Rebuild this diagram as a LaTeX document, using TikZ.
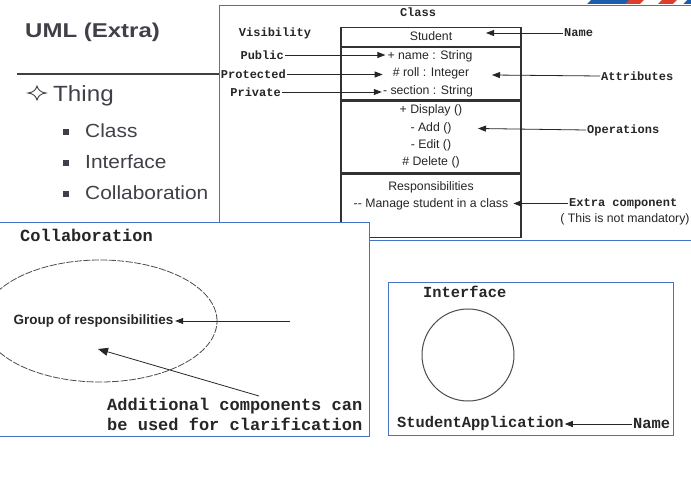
\documentclass[tikz,border=0pt]{standalone}
\usepackage{fontspec}
\setmainfont{Liberation Sans}
\newfontfamily\codefont{Liberation Mono}
\newfontfamily\slidefont[FakeStretch=1.1]{Liberation Sans}
\newfontfamily\titlefont[FakeStretch=1.2]{Liberation Sans}
\usepackage{tikz}
\usetikzlibrary{arrows.meta, positioning, shapes.geometric}
\definecolor{slideblue}{RGB}{68,114,196}
\definecolor{slidegray}{RGB}{64,64,72}
\definecolor{boxgray}{RGB}{50,50,50}
\definecolor{stripered}{RGB}{222,62,42}
\definecolor{stripeblue}{RGB}{28,92,172}

\begin{document}
\begin{tikzpicture}[x=1pt, y=-1pt,
                panel/.style={draw=slideblue, line width=1.1pt, fill=white, anchor=north west},
                comp/.style={draw=boxgray, line width=1.2pt, minimum width=180pt, anchor=north},
                box txt/.style={font=\fontsize{12.3}{14}\selectfont, text=black!85, inner sep=1pt},
                code lbl/.style={font=\codefont\bfseries\fontsize{12}{14}\selectfont, text=black!85, inner sep=1pt},
                big code/.style={font=\codefont\bfseries\fontsize{16.5}{20}\selectfont, text=black!85, inner sep=1pt},
                slide txt/.style={font=\slidefont\fontsize{19}{23}\selectfont, text=slidegray, anchor=base west, inner sep=0pt},
                bullet sq/.style={fill=slidegray, minimum size=6pt, inner sep=0pt},
                ptr/.style={-{Triangle[length=8pt, width=6pt]}, line width=0.8pt, draw=black!85}]

                \useasboundingbox (0,0) rectangle (691,478);

                % Slide title and list
                \fill[stripeblue] (587,4) -- (591,0) -- (691,0) -- (691,4) -- cycle;
                \fill[stripered] (625,4) -- (629,0) -- (644,0) -- (640,4) -- cycle;
                \fill[white] (640,4) -- (644,0) -- (662,0) -- (658,4) -- cycle;
                \fill[stripered] (658,4) -- (662,0) -- (677,0) -- (673,4) -- cycle;
                \fill[white] (673,4) -- (677,0) -- (687,0) -- (683,4) -- cycle;
                \node[anchor=base west, inner sep=0pt, text=slidegray,
                      font=\titlefont\bfseries\fontsize{20}{24}\selectfont] (title) at (25,38) {UML (Extra)};
                \draw[draw=black!75, line width=2pt] (17,74) -- (221,74);
                \draw[slidegray, line width=0.9pt] (28,93) .. controls (33,92.5) and (36,90) .. (37,86)
                      .. controls (38,90) and (41,92.5) .. (46,93) .. controls (41,93.5) and (38,96) .. (37,100)
                      .. controls (36,96) and (33,93.5) .. cycle;
                \node[slide txt, font=\slidefont\fontsize{22}{26}\selectfont] (thing) at (53,102) {Thing};
                \node[bullet sq] (b1) at (66,132.5) {};
                \node[slide txt] (lclass) at (85,138) {Class};
                \node[bullet sq] (b2) at (66,163.5) {};
                \node[slide txt] (liface) at (85,169) {Interface};
                \node[bullet sq] (b3) at (66,194.5) {};
                \node[slide txt] (lcollab) at (85,200) {Collaboration};

                % Class panel
                \node[panel, minimum width=480pt, minimum height=235pt] (classpanel) at (219,5) {};
                \node[code lbl] (classttl) at (418,12) {Class};
                \node[code lbl] (vislbl) at (275,33) {Visibility};
                \node[comp, minimum height=19pt] (cname) at (431,27) {};
                \node[comp, minimum height=52pt, below=0pt of cname] (cattr) {};
                \node[comp, minimum height=72pt, below=0pt of cattr] (cops) {};
                \node[comp, minimum height=63pt, below=0pt of cops] (cresp) {};

                \node[box txt] (stud) at (431,36) {Student};
                \node[box txt] (pname) at (430,56) {+ name : String};
                \node[box txt] (proll) at (431,73.5) {\# roll : Integer};
                \node[box txt] (psect) at (428,91) {- section : String};
                \node[box txt] (odisp) at (431,110) {+ Display ()};
                \node[box txt] (oadd) at (431,128) {- Add ()};
                \node[box txt] (oedit) at (431,145) {- Edit ()};
                \node[box txt] (odel) at (431,162) {\# Delete ()};
                \node[box txt] (resp) at (431,187) {Responsibilities};
                \node[box txt] (manage) at (431,204) {-{}- Manage student in a class};

                \node[code lbl, anchor=east] (publbl) at (285,55) {Public};
                \node[code lbl, anchor=east] (protlbl) at (287,74.5) {Protected};
                \node[code lbl, anchor=east] (privlbl) at (282,92) {Private};
                \draw[ptr, shorten >=1pt] (publbl.east) -- (pname.west |- publbl.east);
                \draw[ptr, shorten >=9pt] (protlbl.east) -- (proll.west |- protlbl.east);
                \draw[ptr] (privlbl.east) -- (psect.west |- privlbl.east);

                \node[code lbl, anchor=west] (namelbl) at (563,33) {Name};
                \node[code lbl, anchor=west] (attrlbl) at (600,76) {Attributes};
                \node[code lbl, anchor=west] (opslbl) at (586,130) {Operations};
                \node[code lbl, anchor=west] (extralbl) at (568,203.5) {Extra component};
                \node[box txt] (mandlbl) at (625,219) {( This is not mandatory)};
                \coordinate (nametip) at (486,33);
                \coordinate (attrtip) at (492,75);
                \coordinate (opstip) at (478,128.5);
                \draw[ptr] (namelbl.west) -- (nametip);
                \draw[ptr] (attrlbl.west) -- (attrtip);
                \draw[ptr] (opslbl.west) -- (opstip);
                \draw[ptr, shorten >=4pt] (extralbl.west) -- (manage.east |- extralbl.west);

                % Collaboration panel
                \node[panel, minimum width=371pt, minimum height=214pt] (collabpanel) at (-2,222) {};
                \node[big code, anchor=west, font=\codefont\bfseries\fontsize{17}{20}\selectfont] (collabttl) at (19,235) {Collaboration};
                \begin{scope}
                    \clip (collabpanel.north west) rectangle (collabpanel.south east);
                    \node[ellipse, draw=black!70, line width=0.8pt, dash pattern=on 7pt off 1.5pt,
                          minimum width=234pt, minimum height=122pt] (grp) at (100,321) {};
                \end{scope}
                \node[anchor=west, inner sep=1.5pt, text=black!85,
                      font=\bfseries\fontsize{13.5}{16}\selectfont] (grptxt) at (12,321) {Group of responsibilities};
                \coordinate (grptail) at (290,321);
                \draw[ptr] (grptail) -- (grptxt.east);
                \node[big code, anchor=west, align=left, font=\codefont\bfseries\fontsize{17}{20}\selectfont] (addl) at (106,414)
                      {Additional components can\\be used for clarification};
                \coordinate (addtail) at (259,396);
                \coordinate (addtip) at (98,349);
                \draw[ptr, -{Triangle[length=10pt, width=8pt]}] (addtail) -- (addtip);

                % Interface panel
                \node[panel, minimum width=285pt, minimum height=153pt] (ifacepanel) at (388,282) {};
                \node[big code, anchor=west, font=\codefont\bfseries\fontsize{15.4}{18}\selectfont] (ifacettl) at (422,292) {Interface};
                \node[circle, draw=black!70, line width=1pt, minimum size=92pt] (iface) at (468,355) {};
                \node[big code, anchor=west, font=\codefont\bfseries\fontsize{15.4}{18}\selectfont] (ifname) at (396,424) {StudentApplication};
                \node[big code, anchor=west, font=\codefont\bfseries\fontsize{15.4}{18}\selectfont] (ifnamelbl) at (632,424) {Name};
                \draw[ptr] (ifnamelbl.west) -- (ifname.east);
            \end{tikzpicture}
\end{document}
